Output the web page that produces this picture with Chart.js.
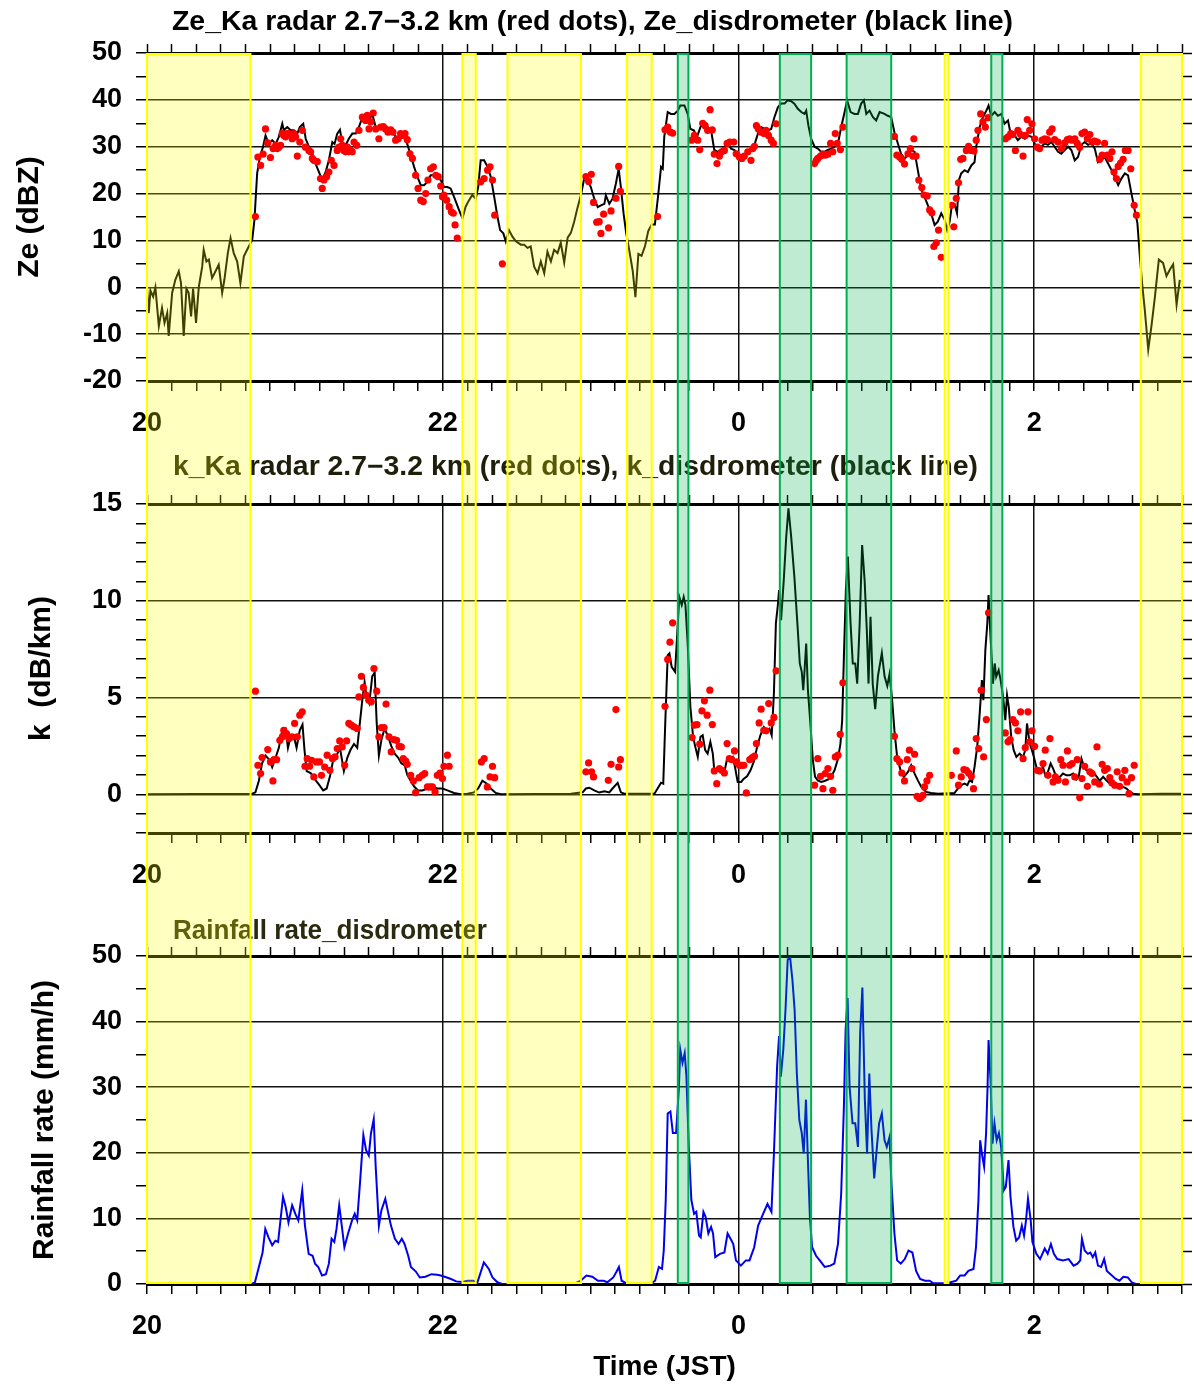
<!DOCTYPE html>
<html>
<head>
<meta charset="utf-8">
<title>Ze, k and rainfall rate</title>
<script src="https://cdn.jsdelivr.net/npm/chart.js@4.4.1/dist/chart.umd.min.js"></script>
<style>
  html, body { margin: 0; padding: 0; background: #fff; }
  canvas { display: block; }
</style>
</head>
<body>
<canvas id="zeChart" width="1194" height="450"></canvas>
<canvas id="kChart" width="1194" height="450"></canvas>
<canvas id="rainChart" width="1194" height="488"></canvas>
<script>
// time is minutes after 20:00 JST
const zeDisdrometer = [
  [0, 0], [0.7, -5.5], [1.4, -0.7], [2.5, -2], [3.4, 0], [4.8, -8.3], [6.1, -4.4], [7.1, -7.6], [8.2, -5.5], [8.8, -10.4],
  [10.2, -1.2], [11.5, 1.6], [12.9, 3.4], [13.8, 0.9], [14.9, -10.4], [16.0, -0.3], [16.9, -1.2], [17.9, -6.2], [18.7, -0.3], [19.9, -7.6],
  [21.0, 0], [22.4, 4.4], [23.0, 8], [24.1, 5.5], [25.1, 5.9], [26.4, 2.0], [27.4, 3], [29.1, 4.8], [30.5, -1.2], [31.4, 1.6],
  [32.8, 7.3], [33.9, 10.5], [35.2, 7.3], [36.6, 5.5], [37.9, 0.9], [39.3, 6.6], [41.3, 8.7], [42.7, 10.1], [43.6, 14.4], [44.7, 24.3],
  [45.8, 27.8], [47.1, 30], [48.1, 32.4], [49.4, 30.6], [50.8, 31.4], [52.2, 30.6], [53.5, 32.1], [54.9, 34.9], [55.5, 33.5], [56.9, 34.2],
  [58.3, 33.5], [59.6, 33.5], [61.0, 32.8], [62.0, 34.2], [63.4, 34.9], [64.4, 31.7], [65.7, 30], [67.1, 28.5], [68.4, 26.4], [69.8, 24.6],
  [71.1, 22.9], [72.5, 24.6], [73.8, 27.1], [75.2, 31], [76.1, 30.6], [77.2, 32.8], [78.3, 33.6], [79.2, 31], [80.6, 30.3], [81.9, 31.7],
  [83.3, 32.8], [84.7, 32.8], [86.0, 34.2], [87.4, 36.3], [88.7, 36.3], [90.1, 35.6], [91.4, 37], [92.8, 34.2], [94.1, 33.8], [95.5, 34.2],
  [96.8, 33.8], [98.2, 33.5], [99.6, 33.1], [100.9, 32.1], [102.3, 32.1], [103.6, 32.8], [105.0, 32.4], [105.6, 30.6], [107.0, 28.2], [108.4, 25.7],
  [109.7, 23.6], [111.1, 21.8], [112.4, 21.8], [113.8, 22.5], [115.1, 23.9], [116.5, 23.9], [117.8, 23.6], [119.2, 22.9], [120.5, 21.4], [121.9, 21.4],
  [123.2, 21.1], [124.6, 19.3], [126.6, 16.5], [128.0, 14.7], [129.3, 17.2], [130.7, 18.6], [132.0, 19.7], [133.4, 18.9], [134.4, 21.4], [135.4, 27.1],
  [136.8, 27.1], [138.2, 25.7], [139.5, 23.6], [140.9, 19.3], [142.2, 15.1], [143.3, 12.2], [144.6, 11.5], [145.6, 9.8], [146.9, 12.2], [148.3, 10.8],
  [149.7, 9.8], [151.7, 9.1], [153.0, 9.1], [154.4, 8.4], [155.7, 8.7], [157.1, 4.4], [158.5, 3.0], [159.8, 5.5], [161.2, 3], [162.5, 7.6],
  [163.9, 5.5], [165.2, 8], [166.6, 7.3], [167.9, 9.5], [169.3, 5.3], [170.7, 10.6], [172.0, 11.6], [173.4, 14.1], [174.7, 17], [176.1, 19.7],
  [177.4, 23.2], [178.8, 22.8], [180.1, 21.4], [181.5, 18.9], [182.9, 17.1], [184.2, 17.5], [185.6, 17.8], [186.2, 19.6], [187.6, 17.8], [188.9, 18.9],
  [190.3, 22.2], [191.4, 25.3], [192.3, 21.4], [193.4, 15.7], [194.4, 11.8], [195.7, 7.9], [197.1, 3.5], [198.2, -2.1], [199.4, 7.1], [200.7, 6.7],
  [202.1, 8.8], [203.4, 12], [204.8, 13.4], [206.1, 13.4], [207.5, 20], [208.6, 25.7], [209.3, 25.3], [209.9, 32.1], [211.3, 37.4], [212.6, 37],
  [214.0, 37], [215.4, 37.7], [216.4, 38.8], [218.1, 38.8], [219.4, 37], [220.5, 33.8], [221.9, 33.5], [223.2, 32.1], [224.8, 34.5], [226.2, 34.2],
  [227.5, 34.2], [228.9, 33.5], [230.2, 29.3], [231.6, 28.9], [233.0, 29.3], [234.3, 30], [235.7, 30.7], [237.0, 29.6], [238.4, 29.3], [239.7, 28.2],
  [241.1, 27.1], [242.4, 28.2], [243.8, 28.5], [245.1, 29.3], [246.5, 30.4], [247.9, 32.8], [249.2, 34.2], [250.6, 33.8], [251.9, 33.5], [253.3, 33.8],
  [254.6, 36.3], [256.0, 38.4], [257.3, 39.2], [258.7, 39.2], [260.0, 39.9], [261.4, 39.7], [262.7, 39.2], [264.1, 38.1], [265.5, 37.4], [266.8, 37],
  [267.5, 37.7], [268.4, 34.5], [269.5, 31.7], [270.9, 30], [272.2, 29.6], [273.6, 28.9], [274.9, 28.9], [276.3, 29.3], [277.6, 29.6], [279.0, 30],
  [280.4, 30.7], [281.7, 34.2], [283.1, 37.4], [284.1, 39.9], [285.5, 37.4], [287.1, 37], [288.5, 37], [289.8, 39.2], [290.9, 39.9], [291.9, 37],
  [293.2, 37.7], [294.6, 36.3], [295.9, 35.6], [297.3, 37.4], [299.3, 37], [300.6, 36.6], [302.0, 36.3], [303.3, 33.1], [304.7, 30.7], [306.0, 28.5],
  [307.4, 27.5], [308.8, 28.2], [310.1, 29.3], [311.5, 28.9], [312.8, 25], [314.2, 20.8], [315.5, 19.3], [316.9, 17.5], [318.2, 15.8], [319.6, 13.3],
  [320.9, 14], [322.3, 15.8], [323.7, 14.4], [324.7, 12.2], [325.7, 14], [326.6, 17.5], [327.7, 17.8], [328.7, 15.8], [329.5, 22.9], [330.4, 24.3],
  [331.8, 25], [333.1, 24.6], [334.5, 26], [335.8, 26.7], [336.5, 30], [337.9, 34.2], [339.2, 36.3], [340.6, 37.7], [341.5, 38.8], [342.6, 36.6],
  [344.0, 37.4], [345.3, 36.6], [346.7, 37], [348.0, 34.9], [349.4, 35.6], [350.7, 32.1], [352.1, 32.4], [353.4, 31.4], [354.8, 32.1], [356.2, 31.7],
  [357.5, 32.4], [358.9, 32.1], [360.2, 30.7], [361.6, 29.6], [362.9, 30], [364.3, 30.7], [365.6, 30.4], [367.0, 31], [368.3, 30], [369.7, 28.9],
  [371.0, 28.5], [372.4, 29.3], [373.8, 30], [375.1, 29.3], [376.5, 27.1], [377.8, 27.8], [379.2, 30.4], [380.5, 31], [381.9, 30.4], [383.2, 30.7],
  [384.6, 29.6], [385.9, 26.7], [387.3, 27.1], [388.6, 27.8], [390.0, 26.4], [391.4, 25], [392.7, 23.6], [394.1, 21.8], [395.4, 23.2], [396.8, 24.3],
  [398.1, 23.9], [399.5, 20], [400.8, 16.5], [401.9, 13.7], [402.9, 6.6], [403.8, 0.9], [404.9, -4.8], [406.3, -13.3], [407.6, -8.3], [409.0, -2.1],
  [410.6, 5.9], [412.3, 5.2], [413.7, 2.4], [415.1, 3.8], [416.4, 4.9], [417.8, -3.7], [419.1, 1.6]
];

const zeRadar = [
  [44.0, 15.1], [45.0, 27.8], [46.1, 26.0], [47.1, 28.4], [48.1, 33.8], [49.0, 30.8], [50.1, 27.7], [51.2, 29.6], [52.2, 30.3], [52.8, 29.6],
  [53.5, 29.9], [54.2, 30.3], [54.9, 32.8], [55.5, 32.4], [56.2, 32.1], [56.9, 32.8], [57.6, 32.8], [58.3, 32.4], [58.9, 31.7], [59.6, 32.8],
  [60.3, 32.1], [61.0, 28.0], [62.0, 31.0], [63.0, 33.5], [64.3, 29.9], [65.7, 29.2], [66.4, 28.9], [67.1, 27.5], [67.7, 27.1], [69.1, 26.8],
  [70.4, 23.2], [71.1, 21.1], [71.8, 22.9], [72.9, 23.6], [73.8, 24.6], [74.8, 27.1], [75.9, 26.0], [77.2, 29.2], [77.9, 29.9], [78.6, 31.7],
  [79.2, 30.3], [79.9, 29.2], [80.6, 28.9], [81.3, 29.9], [81.9, 28.9], [82.6, 29.2], [83.3, 28.9], [84.0, 31.0], [85.1, 30.3], [86.0, 33.5],
  [87.4, 36.3], [88.0, 36.0], [88.7, 35.6], [89.4, 36.7], [90.1, 33.8], [90.8, 35.3], [91.8, 37.2], [92.8, 33.8], [94.1, 31.7], [94.8, 34.2],
  [95.9, 34.3], [96.8, 33.8], [97.8, 33.1], [98.9, 33.6], [99.8, 33.1], [100.9, 31.4], [101.9, 31.7], [102.9, 32.8], [103.9, 32.4], [104.7, 32.8],
  [105.6, 31.5], [106.7, 28.5], [107.7, 27.5], [109.0, 23.9], [110.0, 21.1], [111.1, 18.6], [112.1, 18.3], [113.1, 20.0], [114.0, 22.9], [115.1, 25.3],
  [116.2, 25.7], [117.2, 23.9], [118.2, 23.6], [119.2, 21.6], [119.9, 19.3], [120.5, 19.7], [121.6, 18.6], [122.6, 17.2], [123.5, 16.1], [124.3, 15.8],
  [125.0, 13.3], [125.9, 10.5], [135.4, 22.5], [136.8, 23.2], [138.2, 25.0], [139.2, 25.7], [140.2, 22.9], [141.1, 15.4], [144.2, 5.0],
  [178.1, 23.6], [179.2, 22.6], [180.3, 24.1], [181.2, 18.1], [182.5, 13.9], [183.5, 14.0], [184.2, 11.5], [185.3, 15.6], [187.3, 12.7], [188.3, 16.3],
  [190.3, 19.0], [191.4, 25.8], [192.1, 20.5], [207.2, 15.1], [210.2, 33.6], [211.3, 34.2], [212.4, 33.1], [213.3, 32.9], [221.0, 31.4], [222.1, 32.4],
  [223.5, 31.4], [224.3, 29.4], [225.5, 35.0], [226.5, 34.5], [227.5, 33.5], [228.5, 37.9], [229.4, 33.6], [230.2, 28.4], [231.3, 26.4], [232.3, 28.0],
  [233.2, 28.9], [234.3, 29.2], [235.4, 30.7], [236.5, 31.0], [238.1, 31.0], [239.1, 28.5], [240.4, 27.8], [241.4, 27.5], [242.4, 28.0], [243.8, 28.9],
  [245.1, 27.1], [245.8, 29.6], [246.5, 30.1], [247.3, 34.5], [248.1, 33.8], [249.2, 33.1], [250.3, 32.8], [251.2, 33.5], [252.2, 32.4], [253.3, 31.4],
  [254.2, 30.7], [255.3, 34.9], [270.9, 26.4], [271.6, 27.1], [272.2, 27.5], [273.3, 28.0], [274.3, 28.4], [275.2, 28.2], [276.3, 28.4], [277.4, 30.7],
  [278.3, 28.9], [279.3, 32.8], [280.1, 30.7], [281.4, 29.4], [282.4, 34.2],
  [303.3, 32.2], [304.3, 28.2], [305.4, 27.8], [306.3, 27.3], [307.4, 26.3], [308.8, 28.5], [309.8, 29.6], [310.8, 28.0], [311.2, 31.7], [312.1, 28.0],
  [313.2, 22.9], [314.4, 21.3], [315.3, 19.7], [316.6, 19.5], [317.6, 16.5], [318.5, 15.9], [319.3, 8.7], [320.3, 9.5], [321.2, 12.2], [322.3, 6.4],
  [326.6, 17.5], [327.4, 12.9], [328.4, 19.0], [329.3, 22.3], [330.2, 27.3], [331.1, 27.5], [332.5, 29.2], [333.4, 30.1], [334.5, 29.2], [335.6, 29.1],
  [336.5, 31.4], [337.2, 33.5], [338.3, 37.0], [339.2, 35.3], [340.2, 34.2], [341.3, 36.2], [348.3, 31.7], [349.4, 32.1], [350.5, 32.8], [351.4, 32.6],
  [352.4, 29.2], [353.4, 33.5], [354.5, 32.6], [355.5, 28.0], [356.4, 32.4], [357.2, 35.8], [358.2, 33.5], [359.1, 34.9], [360.2, 31.7], [361.3, 29.9],
  [362.2, 29.6], [363.2, 31.4], [364.3, 31.7], [365.4, 31.5], [366.3, 33.1], [367.3, 33.8], [368.3, 31.5], [369.7, 31.0], [371.0, 29.6], [372.4, 30.8],
  [373.5, 31.5], [374.4, 31.7], [375.4, 31.4], [376.5, 31.7], [377.5, 30.7], [378.5, 29.9], [379.4, 32.8], [380.5, 33.1], [381.6, 31.7], [382.6, 32.6],
  [383.5, 31.0], [384.6, 31.2], [385.7, 31.0], [386.6, 27.3], [387.6, 28.2], [388.6, 30.7], [389.7, 28.2], [390.7, 27.5], [391.6, 28.9], [392.4, 24.6],
  [393.4, 23.2], [394.1, 25.8], [395.1, 26.5], [396.1, 27.3], [397.0, 29.2], [398.1, 29.2], [399.2, 25.3], [400.6, 17.5], [401.5, 15.4]
];

const kDisdrometer = [
  [0, 0], [20, 0.02], [42.7, 0.03], [44.0, 0.1], [45.4, 0.7], [46.7, 1.6], [48.1, 2.0], [49.5, 1.8], [50.8, 1.4], [52.2, 1.9],
  [53.5, 2.4], [54.9, 3.3], [56.2, 3.4], [57.2, 2.4], [58.3, 3.0], [59.6, 3.0], [60.7, 2.4], [62.0, 3.3], [63.1, 3.6], [63.9, 2.3],
  [64.8, 1.2], [66.4, 1.1], [68.0, 0.8], [69.8, 0.5], [71.5, 0.2], [72.9, 0.3], [74.2, 0.9], [75.6, 1.8], [76.9, 2.0], [78.3, 2.4],
  [79.9, 1.2], [81.3, 1.9], [82.6, 2.3], [84.0, 2.6], [85.3, 2.4], [86.4, 3.7], [87.4, 4.9], [88.3, 5.8], [89.1, 5.0], [90.2, 4.7],
  [91.4, 6.1], [92.4, 6.3], [93.2, 3.7], [94.1, 2.0], [95.1, 2.8], [96.4, 3.4], [97.8, 3.0], [99.1, 2.5], [100.5, 2.1], [101.9, 1.9],
  [103.2, 1.6], [104.6, 1.5], [105.6, 1.0], [107.0, 0.7], [108.4, 0.4], [110.0, 0.2], [111.7, 0.2], [113.8, 0.3], [115.8, 0.4], [117.8, 0.3],
  [119.9, 0.3], [121.9, 0.2], [124.6, 0.07], [127.3, 0], [130.0, 0.03], [132.7, 0.1], [134.4, 0.3], [136.1, 0.7], [137.9, 0.55], [139.5, 0.3],
  [141.5, 0.07], [143.6, 0], [172.0, 0.03], [176.8, 0.1], [178.1, 0.3], [179.5, 0.34], [181.5, 0.2], [183.5, 0.09], [185.6, 0.16], [187.6, 0.1],
  [188.9, 0.3], [191.0, 0.59], [192.3, 0.1], [193.7, 0.03], [205.9, 0.03], [207.2, 0.3], [208.6, 0.6], [209.5, 0.55], [210.3, 3.66], [211.3, 7.19],
  [212.0, 7.28], [212.9, 6.59], [214.3, 6.33], [215.4, 8.83], [216.0, 10.2], [217.0, 9.78], [217.8, 10.2], [218.5, 9.78], [219.4, 7.79], [220.5, 4.52],
  [221.6, 2.97], [222.5, 2.45], [223.5, 1.93], [224.6, 2.97], [225.5, 3.05], [226.5, 2.28], [227.5, 2.1], [228.6, 2.71], [229.6, 2.1], [230.2, 1.24],
  [231.6, 1.24], [233.0, 1.33], [234.3, 1.16], [235.4, 1.84], [236.3, 1.76], [237.7, 1.93], [238.6, 1.41], [239.7, 0.64], [241.1, 0.64], [242.2, 0.81],
  [243.5, 0.93], [244.9, 1.24], [246.2, 1.67], [247.6, 2.45], [248.9, 3.05], [250.3, 3.48], [251.6, 3.31], [252.6, 3.40], [253.5, 3.05], [254.4, 5.21],
  [255.2, 8.83], [256.0, 9.78], [256.5, 10.55], [257.3, 9.0], [258.4, 11.07], [259.4, 13.31], [260.3, 14.78], [261.4, 13.31], [262.7, 11.24], [264.1, 8.48],
  [264.9, 6.76], [265.7, 6.33], [266.3, 5.38], [266.8, 6.33], [267.5, 7.79], [268.2, 5.38], [269.2, 3.66], [270.2, 1.76], [271.1, 0.9], [272.2, 0.72],
  [273.6, 0.64], [274.9, 0.69], [276.3, 0.76], [277.6, 0.9], [279.0, 1.24], [280.4, 1.84], [281.4, 2.62], [282.1, 3.83], [282.8, 7.1], [283.6, 10.55],
  [284.4, 12.28], [285.5, 8.83], [286.4, 6.76], [287.4, 6.76], [288.2, 5.72], [289.2, 8.83], [290.2, 12.88], [291.2, 11.07], [292.1, 8.48], [292.8, 5.72],
  [293.6, 9.17], [294.5, 5.7], [295.5, 4.4], [296.6, 6.1], [298.2, 7.3], [299.3, 6.1], [300.4, 5.6], [301.3, 6.2], [302.3, 5.0], [303.3, 3.3],
  [304.4, 1.93], [305.8, 1.24], [307.1, 0.9], [308.8, 1.16], [310.1, 1.5], [311.5, 1.07], [312.8, 0.72], [314.2, 0.38], [316.2, 0.12], [318.2, 0.07],
  [321.0, 0.03], [327.7, 0.07], [329.1, 0.3], [330.4, 0.47], [331.8, 0.55], [332.9, 0.47], [333.8, 0.72], [334.8, 0.64], [335.8, 1.41], [336.9, 2.45],
  [337.9, 4.17], [338.8, 5.9], [339.4, 4.86], [340.2, 7.45], [341.0, 8.83], [341.5, 10.29], [342.3, 8.14], [343.3, 5.72], [344.0, 6.76], [344.6, 6.07],
  [345.6, 6.41], [346.4, 5.9], [347.4, 5.03], [348.3, 3.83], [349.0, 5.12], [349.7, 4.52], [350.7, 2.97], [351.7, 2.28], [352.8, 1.93], [354.1, 2.1],
  [355.5, 1.93], [356.4, 2.28], [357.1, 3.66], [358.2, 2.62], [359.1, 2.28], [359.9, 1.93], [360.9, 1.41], [362.2, 1.16], [363.6, 1.41], [364.5, 0.98],
  [365.6, 1.16], [366.7, 1.59], [367.7, 1.33], [369.0, 0.9], [370.4, 0.9], [371.7, 1.07], [373.1, 0.98], [374.4, 0.98], [375.8, 1.07], [377.1, 0.76],
  [378.1, 0.9], [379.2, 1.84], [380.3, 1.41], [381.2, 1.24], [382.6, 1.16], [383.9, 1.16], [385.3, 0.93], [386.6, 0.69], [388.0, 0.9], [389.3, 0.72],
  [390.7, 0.55], [392.0, 0.47], [393.4, 0.38], [394.7, 0.3], [396.1, 0.38], [397.5, 0.3], [398.8, 0.12], [400.2, 0.03], [402.2, 0], [411.7, 0.03],
  [420, 0.03]
];

const kRadar = [
  [44.0, 5.33], [45.0, 1.50], [46.1, 1.07], [46.7, 1.90], [49.0, 2.31], [50.1, 1.67], [51.1, 0.69], [51.5, 1.79], [52.6, 1.79], [53.9, 2.79],
  [54.9, 2.97], [55.5, 3.31], [56.6, 3.14], [57.6, 2.88], [58.9, 2.97], [59.9, 3.66], [61.0, 2.97], [62.0, 4.09], [63.0, 4.26], [64.1, 1.45],
  [65.0, 1.84], [66.0, 1.45], [66.8, 1.76], [67.7, 0.90], [68.8, 1.67], [70.0, 1.67], [70.8, 0.98], [72.1, 1.41], [73.1, 2.02], [74.2, 1.24],
  [75.3, 1.84], [76.3, 1.93], [77.2, 2.36], [78.2, 2.76], [79.2, 2.45], [80.2, 1.50], [81.0, 2.76], [81.9, 3.66], [82.9, 3.57], [84.0, 3.48],
  [85.3, 3.40], [86.0, 5.03], [87.0, 6.10], [87.8, 5.52], [88.9, 5.12], [90.0, 4.86], [91.0, 4.78], [92.1, 6.50], [93.2, 5.33], [94.1, 2.97],
  [95.1, 3.45], [96.2, 3.45], [97.0, 4.66], [98.2, 2.97], [99.1, 2.19], [100.2, 2.83], [101.3, 2.79], [102.3, 2.48], [103.2, 2.45], [104.0, 1.84],
  [105.0, 1.72], [105.6, 1.55], [107.0, 0.98], [108.1, 0.69], [109.0, 0.09], [110.4, 0.86], [111.7, 0.98], [112.7, 1.07], [113.8, 0.38], [114.9, 0.38],
  [115.8, 0.38], [116.9, 0.12], [117.8, 0.98], [118.9, 1.10], [119.9, 0.81], [120.5, 1.45], [121.9, 2.02], [122.6, 1.45], [135.7, 1.67], [136.8, 1.84],
  [138.1, 0.38], [139.2, 0.90], [140.2, 1.45], [141.1, 0.86],
  [178.1, 1.16], [179.2, 1.62], [180.4, 1.16], [181.2, 0.90], [187.2, 0.72], [188.3, 1.55], [190.3, 4.38], [191.4, 1.41], [192.1, 1.79], [210.2, 4.55],
  [211.3, 6.97], [212.2, 7.86], [213.3, 8.86], [221.2, 2.93], [222.1, 3.57], [223.2, 3.60], [224.3, 2.59], [225.2, 4.31], [226.2, 4.83], [227.3, 4.09],
  [228.4, 5.38], [229.4, 3.60], [230.2, 1.21], [231.2, 0.55], [232.3, 1.33], [233.2, 1.24], [234.3, 1.10], [235.4, 2.62], [236.3, 1.84], [237.3, 1.79],
  [238.4, 2.24], [239.3, 1.67], [240.4, 1.50], [241.4, 1.50], [242.2, 1.50], [243.2, 0.07], [244.6, 1.79], [245.6, 1.90], [246.5, 1.97], [247.3, 2.62],
  [248.4, 3.69], [249.2, 4.40], [250.3, 3.31], [251.2, 3.28], [252.3, 4.69], [253.3, 3.69], [254.4, 3.97], [255.3, 6.38], [270.9, 0.47], [272.2, 1.84],
  [273.3, 0.93], [274.3, 0.29], [275.2, 1.07], [276.3, 1.33], [277.4, 0.93], [278.3, 0.21], [279.3, 1.93], [280.4, 2.02], [281.3, 3.10], [282.4, 5.76],
  [303.3, 3.00], [304.3, 1.84], [305.4, 1.67], [306.3, 1.10], [307.4, 0.69], [308.5, 1.79], [309.4, 2.28], [310.4, 1.33], [311.5, 2.07], [312.5, -0.10],
  [313.5, -0.22], [314.2, -0.14], [314.9, -0.05], [315.5, 0.38], [316.5, 0.69], [317.6, 0.98], [326.4, 0.98], [328.4, 2.24], [329.3, 0.47], [330.4, 0.90],
  [331.5, 1.28], [332.5, 1.24], [333.4, 1.10], [334.5, 0.93], [335.4, 0.29], [336.5, 2.88], [337.5, 2.36], [338.5, 5.38], [339.5, 1.93], [340.6, 3.86],
  [341.5, 9.38], [348.3, 3.17], [349.4, 2.71], [350.3, 2.83], [351.4, 3.86], [352.4, 3.69], [353.4, 3.28], [354.5, 4.26], [355.5, 1.84], [356.4, 2.41],
  [357.5, 4.26], [358.2, 2.71], [359.1, 3.28], [360.2, 2.48], [361.3, 1.24], [362.2, 1.21], [363.6, 1.59], [364.5, 2.28], [365.6, 0.98], [366.4, 2.88],
  [367.7, 0.64], [368.6, 0.90], [369.7, 0.72], [370.8, 1.79], [371.7, 1.50], [372.7, 0.64], [373.5, 2.24], [374.4, 1.50], [375.4, 1.59], [376.5, 0.90],
  [377.5, 1.79], [378.5, -0.17], [379.4, 0.81], [380.5, 1.45], [381.6, 0.41], [382.6, 1.16], [383.5, 1.07], [384.6, 0.64], [385.5, 2.45], [386.5, 0.52],
  [387.6, 1.55], [388.6, 1.24], [389.7, 1.33], [390.7, 0.86], [391.6, 0.59], [392.7, 0.47], [393.7, 1.16], [394.7, 0.41], [395.7, 0.86], [396.8, 1.24],
  [397.7, 0.64], [398.5, 0.03], [399.5, 0.86], [400.6, 1.50]
];

const rainRate = [
  [0, 0], [42.5, 0], [43.8, 0.26], [45.4, 2.6], [46.9, 4.8], [48.0, 8.4], [49.3, 7.1], [50.8, 5.9], [52.1, 6.6], [53.2, 6.4],
  [55.2, 13.3], [56.3, 11.7], [57.4, 9.4], [58.9, 12], [60.2, 10.7], [61.4, 9.7], [63.0, 14.3], [64.1, 8.9], [65.6, 4.6], [67.2, 4.3],
  [68.2, 3.1], [69.5, 2.6], [71.0, 1.3], [72.6, 1.5], [73.8, 3.1], [74.9, 6.9], [76.0, 6.4], [76.9, 8.4], [78.0, 12], [79.1, 8.7],
  [80.1, 5.6], [81.6, 7.7], [83.2, 9.7], [84.3, 10.7], [85.3, 9.7], [86.6, 16.3], [87.8, 22.7], [88.9, 20.4], [90.0, 19.6], [90.9, 23],
  [92.0, 25.1], [92.8, 17.9], [94.1, 8.9], [95.1, 11.2], [96.7, 13], [97.8, 11], [99.0, 8.9], [100.6, 6.9], [102.1, 6.1], [103.4, 6.9],
  [104.5, 6.1], [106.0, 4.3], [107.1, 2.6], [109.1, 1.9], [110.7, 1.0], [113.0, 1.1], [115.4, 1.5], [117.7, 1.4], [119.2, 1.3], [120.8, 1.1],
  [123.1, 0.8], [125.5, 0.4], [127.8, 0.3], [130.1, 0.5], [132.5, 0.5], [134.0, 0.15], [136.7, 3.3], [138.7, 2.3], [140.2, 1.0], [142.2, 0.26],
  [144.1, 0], [173.7, 0.1], [176.0, 0.5], [178.3, 1.3], [180.7, 1.1], [183.0, 0.5], [185.3, 0.5], [186.8, 0.26], [189.2, 1.0], [190.4, 1.8],
  [191.5, 2.6], [192.6, 0.5], [194.6, 0.1], [204.6, 0.1], [206.2, 0.5], [207.7, 2.6], [209.0, 2.3], [209.7, 5.1], [210.5, 12.8], [211.3, 26],
  [212.4, 26.3], [213.4, 23], [214.7, 23], [215.8, 29.6], [216.4, 35.7], [217.3, 33.7], [218.2, 35.2], [218.9, 31.6], [219.8, 21.4], [220.9, 12.8],
  [222.0, 10.7], [222.9, 11], [224.0, 7.4], [224.7, 7.1], [225.8, 11], [226.7, 10.2], [227.8, 7.7], [228.9, 8.7], [229.7, 7.7], [230.6, 4.1],
  [232.5, 4.6], [234.3, 4.8], [235.6, 7.7], [236.8, 6.9], [237.9, 6.1], [239.0, 3.6], [241.0, 2.8], [243.0, 3.6], [244.5, 3.6], [246.4, 5.6],
  [248.0, 8.9], [249.8, 10.5], [251.8, 12.2], [253.4, 11], [254.4, 19.9], [255.7, 33.2], [256.5, 37.8], [257.2, 31.6], [258.2, 35.7], [259.1, 41.8],
  [260.0, 49.5], [261.0, 49.7], [261.9, 46.4], [262.8, 41.8], [263.7, 32.1], [264.7, 25], [265.7, 23], [266.5, 19.9], [267.4, 28.1], [268.1, 19.9],
  [269.0, 10.2], [269.9, 5.6], [271.5, 4.3], [273.0, 3.6], [275.0, 2.6], [277.3, 2.8], [278.9, 3.1], [280.4, 6.1], [281.7, 13.8], [282.8, 27],
  [283.5, 38.8], [284.3, 43.6], [285.1, 30.1], [286.3, 24.5], [287.4, 24.5], [288.5, 20.9], [289.4, 38.3], [290.3, 45.2], [291.3, 28.1], [292.2, 19.9],
  [293.1, 32.1], [294.0, 23.5], [295.1, 16.1], [296.2, 20.9], [297.1, 24.5], [298.2, 26], [299.3, 21.9], [300.2, 20.9], [301.3, 22.4], [302.1, 15.3],
  [303.3, 7.7], [304.4, 3.6], [305.9, 3.1], [307.5, 3.8], [309.0, 5.1], [310.6, 4.8], [312.1, 2.0], [313.7, 0.77], [315.7, 0.5], [317.6, 0.5],
  [319.1, 0.1], [323.8, 0.1], [326.1, 0.26], [328.4, 0.5], [330.0, 1.3], [331.8, 1.3], [333.3, 2.0], [335.4, 2.3], [336.4, 5.6], [337.4, 12.8],
  [338.1, 21.9], [338.9, 19.6], [339.7, 17.9], [340.5, 23], [341.1, 30.1], [341.5, 37.2], [342.3, 31.1], [343.1, 21.4], [343.9, 24.5], [344.8, 21.9],
  [345.7, 23], [346.6, 20.9], [347.7, 14.3], [348.5, 14.8], [349.6, 18.9], [350.4, 13.3], [351.6, 8.7], [352.7, 6.6], [353.9, 7.1], [355.0, 8.9],
  [355.9, 7.4], [356.7, 9.7], [357.5, 13], [358.6, 9.7], [359.3, 6.4], [360.9, 4.6], [362.4, 3.8], [364.3, 5.4], [365.5, 4.6], [366.8, 6.1],
  [368.0, 4.6], [369.4, 3.8], [371.7, 3.6], [374.0, 3.8], [376.0, 2.8], [377.6, 3.1], [378.7, 3.6], [379.4, 6.9], [380.5, 5.1], [381.8, 4.6],
  [382.8, 4.8], [383.8, 4.1], [384.8, 4.8], [385.9, 2.8], [387.2, 2.6], [388.4, 3.8], [389.5, 2.0], [391.0, 1.5], [393.1, 0.77], [394.6, 0.5],
  [396.2, 1.1], [398.0, 1.0], [399.6, 0.26], [401.2, 0], [420, 0]
];

// shaded periods, [start, end] in minutes after 20:00
const yellowBands = [[0, 42], [128, 133.4], [146.3, 176.1], [194.8, 204.8], [323.7, 325.2], [403.3, 420]];
const greenBands = [[215.4, 219.7], [256.8, 269.5], [283.9, 302.0], [342.6, 347.1]];

const FONT = '"Liberation Sans", Arial, Helvetica, sans-serif';
Chart.defaults.font.family = FONT;
Chart.defaults.color = '#000';

const toPoints = (rows) => rows.map(([x, y]) => ({ x, y }));
const hourLabel = (v) => String((20 + v / 60) % 24);

// titles go under the shading, bands run through all three canvases
const overlayPlugin = {
    id: 'panelOverlay',
    afterDraw(chart, args, opts) {
        const { ctx, chartArea } = chart;
        const xScale = chart.scales.x;

        if (opts.title) {
            ctx.save();
            ctx.font = `bold 27px ${FONT}`;
            const w = ctx.measureText(opts.title).width;
            ctx.translate(opts.titleX, opts.titleY);
            ctx.scale(opts.titleWidth / w, 1);
            ctx.fillStyle = opts.titleColor;
            ctx.textBaseline = 'alphabetic';
            ctx.fillText(opts.title, 0, 0);
            ctx.restore();
        }

        const top = opts.fromArea ? chartArea.top : 0;
        const bottom = opts.toArea ? chartArea.bottom : chart.height;

        const paint = (bands, fill, edge) => {
            bands.forEach(([a, b]) => {
                const left = xScale.getPixelForValue(a);
                const right = xScale.getPixelForValue(b);
                ctx.fillStyle = fill;
                ctx.fillRect(left, top, right - left, bottom - top);
                ctx.strokeStyle = edge;
                ctx.lineWidth = 2;
                ctx.beginPath();
                ctx.moveTo(left, top); ctx.lineTo(left, bottom);
                ctx.moveTo(right, top); ctx.lineTo(right, bottom);
                if (opts.fromArea) { ctx.moveTo(left, top + 1); ctx.lineTo(right, top + 1); }
                if (opts.toArea) { ctx.moveTo(left, bottom - 1); ctx.lineTo(right, bottom - 1); }
                ctx.stroke();
            });
        };

        ctx.save();
        paint(yellowBands, 'rgba(255, 255, 0, 0.25)', '#ffff00');
        paint(greenBands, 'rgba(0, 176, 80, 0.25)', '#00b050');
        ctx.restore();
    },
};

function buildScales(p) {
    const majorOnly = (step) => (ctx) => (ctx.tick && ctx.tick.value % step === 0 ? '#111' : 'rgba(0,0,0,0)');
    const tickFont = { family: FONT, size: 27, weight: 'bold' };

    return {
        x: {
            type: 'linear', position: 'bottom', min: 0, max: 420,
            afterFit: (s) => { s.height = p.height - p.bottom; },
            border: { color: '#000', width: 3 },
            grid: { color: majorOnly(120), lineWidth: 1.5, tickColor: '#000', tickWidth: 1.5, tickLength: 10 },
            ticks: {
                stepSize: 10, autoSkip: false, maxRotation: 0, padding: 10, color: '#000',
                font: { family: FONT, size: 27, weight: 'bold', lineHeight: 1.65 },
                callback: (v) => (v % 120 === 0 ? hourLabel(v) : ''),
            },
            title: p.xTitle
                ? { display: true, text: p.xTitle, color: '#000', font: { family: FONT, size: 28, weight: 'bold' }, padding: { top: 0, bottom: 4 } }
                : { display: false },
        },
        xTop: {
            type: 'linear', position: 'top', min: 0, max: 420,
            afterFit: (s) => { s.height = p.top; },
            border: { color: '#000', width: 3 },
            grid: { drawOnChartArea: false, tickColor: '#000', tickWidth: 1.5, tickLength: 9 },
            ticks: { stepSize: 10, autoSkip: false, display: false },
        },
        y: {
            type: 'linear', position: 'left', min: p.yMin, max: p.yMax,
            afterFit: (s) => { s.width = 147; },
            border: { color: '#000', width: 1.5 },
            grid: { color: majorOnly(p.yMajor), lineWidth: 1.5, tickColor: '#000', tickWidth: 1.5, tickLength: 11 },
            ticks: {
                stepSize: p.yMinor, autoSkip: false, padding: 14, color: '#000', font: tickFont,
                callback: (v) => (v % p.yMajor === 0 ? String(v) : ''),
            },
            title: {
                display: true, text: p.yTitle, color: '#000',
                font: { family: FONT, size: 30, weight: 'bold' },
                padding: { top: p.yTitlePad, bottom: 0 },
            },
        },
        yRight: {
            type: 'linear', position: 'right', min: p.yMin, max: p.yMax,
            afterFit: (s) => { s.width = 12; },
            border: { color: '#000', width: 1.5 },
            grid: { drawOnChartArea: false, tickColor: '#000', tickWidth: 1.5, tickLength: 10 },
            ticks: { stepSize: p.yMinor, autoSkip: false, display: false },
        },
    };
}

function makePanel(id, p, datasets) {
    return new Chart(document.getElementById(id), {
        type: 'scatter',
        data: { datasets },
        options: {
            responsive: false,
            animation: false,
            events: [],
            layout: { padding: 0 },
            plugins: {
                legend: { display: false },
                tooltip: { enabled: false },
                panelOverlay: p.overlay,
            },
            scales: buildScales(p),
        },
        plugins: [overlayPlugin],
    });
}

const dots = (rows) => ({
    data: toPoints(rows), pointRadius: 3.6, pointBackgroundColor: '#ff0000', pointBorderWidth: 0, showLine: false,
});
const trace = (rows, color) => ({
    data: toPoints(rows), borderColor: color, borderWidth: 2, pointRadius: 0, showLine: true, tension: 0,
});

makePanel('zeChart', {
    height: 450, top: 53, bottom: 381, yMin: -20, yMax: 50, yMinor: 5, yMajor: 10, yTitle: 'Ze (dBZ)', yTitlePad: 12,
    overlay: {
        title: 'Ze_Ka radar 2.7\u22123.2 km (red dots), Ze_disdrometer (black line)',
        titleX: 172, titleY: 30, titleWidth: 841, titleColor: '#000', fromArea: true, toArea: false,
    },
}, [dots(zeRadar), trace(zeDisdrometer, '#000')]);

makePanel('kChart', {
    height: 450, top: 54, bottom: 383, yMin: -2, yMax: 15, yMinor: 1, yMajor: 5, yTitle: 'k  (dB/km)', yTitlePad: 24,
    overlay: {
        title: 'k_Ka radar 2.7\u22123.2 km (red dots), k_disdrometer (black line)',
        titleX: 173, titleY: 25, titleWidth: 805, titleColor: '#1e1e0a', fromArea: false, toArea: false,
    },
}, [dots(kRadar), trace(kDisdrometer, '#000')]);

makePanel('rainChart', {
    height: 488, top: 56, bottom: 384, yMin: 0, yMax: 50, yMinor: 5, yMajor: 10, yTitle: 'Rainfall rate (mm/h)', yTitlePad: 27,
    xTitle: 'Time (JST)',
    overlay: {
        title: 'Rainfall rate_disdrometer',
        titleX: 173, titleY: 39, titleWidth: 314, titleColor: '#2a2a10', fromArea: false, toArea: true,
    },
}, [trace(rainRate, '#0000ee')]);
</script>
</body>
</html>
